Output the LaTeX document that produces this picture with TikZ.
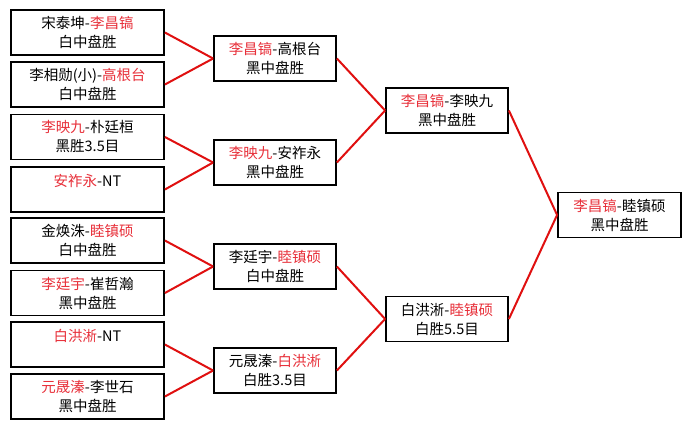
\documentclass[tikz,border=0pt]{standalone}
\usepackage{fontspec}
\setmainfont{Noto Sans CJK SC}
\definecolor{tred}{HTML}{E8303A}
\definecolor{lred}{HTML}{E01010}
\newcommand\rd[1]{\textcolor{tred}{#1}}
\begin{document}
\begin{tikzpicture}[x=1pt,y=-1pt,
  box/.style={draw=black,line width=1.8pt,rectangle,inner sep=0pt,
    minimum height=45pt,align=center,font=\fontsize{14.5}{19}\selectfont},
  b1/.style={box,minimum width=153pt},
  b2/.style={box,minimum width=122pt},
  link/.style={draw=lred,line width=2pt}]
\useasboundingbox[fill=white] (0,0) rectangle (691,429);
% column 1
\node[b1] (a1) at (87.5,32.5)  {宋泰坤-\rd{李昌镐}\\白中盘胜};
\node[b1] (a2) at (87.5,84.5)  {李相勋(小)-\rd{高根台}\\白中盘胜};
\node[b1] (a3) at (87.5,137)   {\rd{李映九}-朴廷桓\\黑胜3.5目};
\node[b1] (a4) at (87.5,189.5) {\rd{安祚永}-NT\\\mbox{}};
\node[b1] (a5) at (87.5,240.5) {金焕洙-\rd{睦镇硕}\\白中盘胜};
\node[b1] (a6) at (87.5,293)   {\rd{李廷宇}-崔哲瀚\\黑中盘胜};
\node[b1] (a7) at (87.5,344.5) {\rd{白洪淅}-NT\\\mbox{}};
\node[b1] (a8) at (87.5,396.5) {\rd{元晟溱}-李世石\\黑中盘胜};
% column 2
\node[b2] (b1) at (275,58.5)  {\rd{李昌镐}-高根台\\黑中盘胜};
\node[b2] (b2) at (275,162.5) {\rd{李映九}-安祚永\\黑中盘胜};
\node[b2] (b3) at (275,266.5) {李廷宇-\rd{睦镇硕}\\白中盘胜};
\node[b2] (b4) at (275,370.5) {元晟溱-\rd{白洪淅}\\白胜3.5目};
% column 3
\node[b2] (c1) at (447,110.5) {\rd{李昌镐}-李映九\\黑中盘胜};
\node[b2] (c2) at (447,319)   {白洪淅-\rd{睦镇硕}\\白胜5.5目};
% column 4
\node[b2,minimum width=123pt] (d1) at (619.5,215) {\rd{李昌镐}-睦镇硕\\黑中盘胜};
% connectors
\draw[link] (a1.east) -- (b1.west);
\draw[link] (a2.east) -- (b1.west);
\draw[link] (a3.east) -- (b2.west);
\draw[link] (a4.east) -- (b2.west);
\draw[link] (a5.east) -- (b3.west);
\draw[link] (a6.east) -- (b3.west);
\draw[link] (a7.east) -- (b4.west);
\draw[link] (a8.east) -- (b4.west);
\draw[link] (b1.east) -- (c1.west);
\draw[link] (b2.east) -- (c1.west);
\draw[link] (b3.east) -- (c2.west);
\draw[link] (b4.east) -- (c2.west);
\draw[link] (c1.east) -- (d1.west);
\draw[link] (c2.east) -- (d1.west);
\end{tikzpicture}
\end{document}
